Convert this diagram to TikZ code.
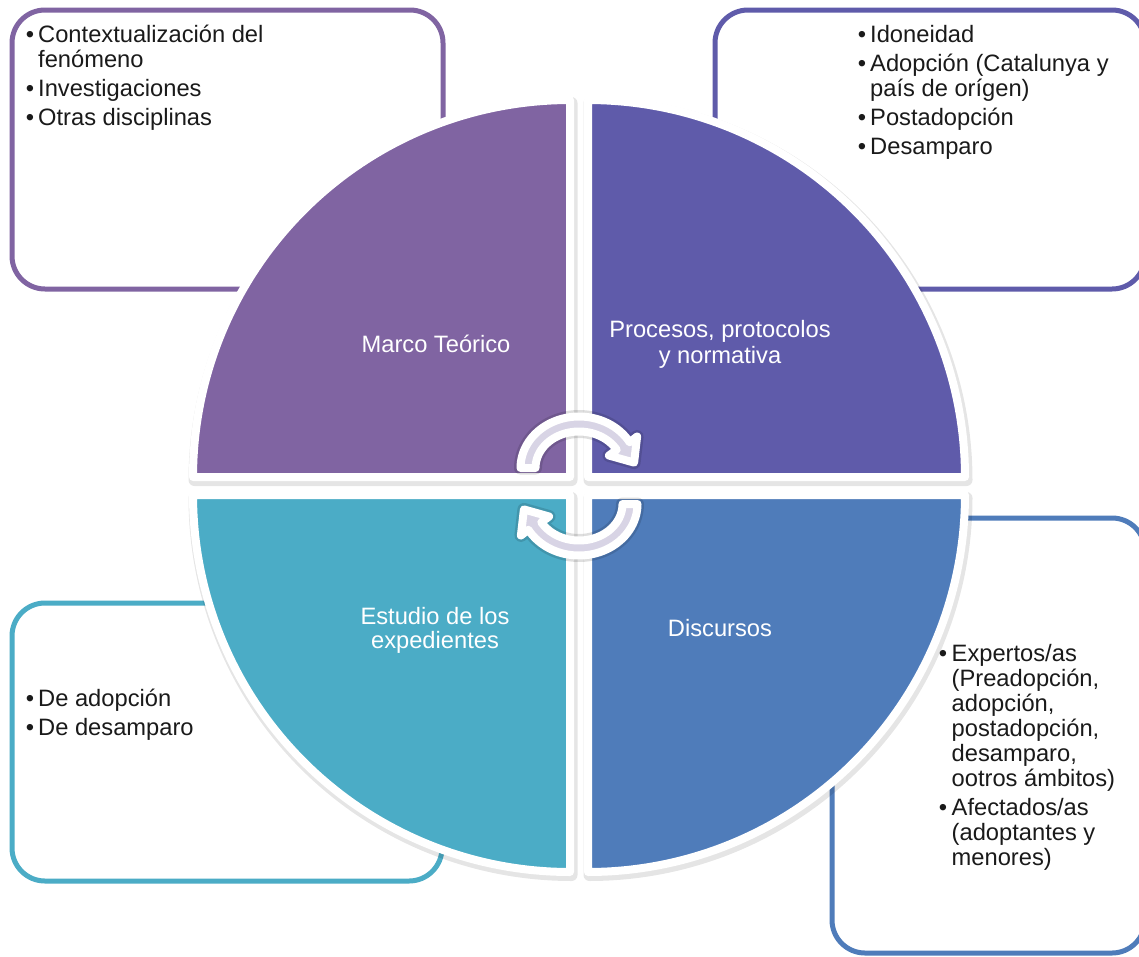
\documentclass[tikz,border=0pt]{standalone}
\usepackage{fontspec}
\setmainfont{Liberation Sans}
\definecolor{cTL}{HTML}{8064A2}
\definecolor{cTR}{HTML}{5F5BAA}
\definecolor{cBR}{HTML}{4F7CBA}
\definecolor{cBL}{HTML}{4BACC6}
\definecolor{lav}{HTML}{D8D4E5}
\definecolor{txtc}{HTML}{1A1A1A}
\begin{document}
\begin{tikzpicture}[x=1pt,y=-1pt,
  box/.style={line width=5pt, rounded corners=33pt, fill=white},
  quad/.style={draw=white, line width=8pt, line join=round},
  shad/.style={fill=black, draw=black, opacity=0.10, line width=12pt, line join=round},
  txt/.style={font=\fontsize{23.7}{25}\selectfont, text=txtc, anchor=base west, inner sep=0pt},
  bul/.style={font=\fontsize{23.7}{25}\selectfont, text=txtc, anchor=base, inner sep=0pt},
  lab/.style={font=\fontsize{23.7}{25}\selectfont, text=white, anchor=base, inner sep=0pt},
  arr/.style={fill=lav, draw=white, line width=8pt, line join=round},
  arrshad/.style={fill=black, draw=black, opacity=0.13, line width=13pt, line join=round},
  cyc/.pic={
    \path[arrshad] plot[domain=180:330,samples=40,smooth] ({58.5*cos(\x)},{-18+51.5*sin(\x)})
      -- (58.1,-49.5) -- (55.1,-23.4) -- (29.9,-30.5)
      -- plot[domain=330:180,samples=40,smooth] ({43.5*cos(\x)},{-18+36.5*sin(\x)}) -- cycle;
    \path[arr] plot[domain=180:330,samples=40,smooth] ({58.5*cos(\x)},{-18+51.5*sin(\x)})
      -- (58.1,-49.5) -- (55.1,-23.4) -- (29.9,-30.5)
      -- plot[domain=330:180,samples=40,smooth] ({43.5*cos(\x)},{-18+36.5*sin(\x)}) -- cycle;
  }]
\useasboundingbox (0,0) rectangle (1139,956);
\clip (0,0) rectangle (1139,956);
\fill[white] (0,0) rectangle (1139,956);

% outline boxes
\draw[box, draw=cTL] (12,10) rectangle (443,289);
\draw[box, draw=cTR] (715,10) rectangle (1145,289);
\draw[box, draw=cBL] (12,603) rectangle (442,881);
\draw[box, draw=cBR] (832,518) rectangle (1145,953);

% quadrant shadows
\foreach \cx/\cy/\sa/\sb in {570/477/180/270, 588/477/270/360, 588/495/0/90, 570/495/90/180} {
  \begin{scope}[shift={(1.5,3)}]
    \path[shad] (\cx,\cy) -- plot[domain=\sa:\sb,samples=60,smooth] ({\cx+377*cos(\x)},{\cy+377*sin(\x)}) -- cycle;
  \end{scope}
}
% quadrants
\foreach \cx/\cy/\sa/\sb/\col in {570/477/180/270/cTL, 588/477/270/360/cTR, 588/495/0/90/cBR, 570/495/90/180/cBL} {
  \path[quad, fill=\col] (\cx,\cy) -- plot[domain=\sa:\sb,samples=60,smooth] ({\cx+377*cos(\x)},{\cy+377*sin(\x)}) -- cycle;
}

% quadrant labels
\node[lab] (marco) at (436,352) {Marco Teórico};
\node[lab] (proc1) at (720,337) {Procesos, protocolos};
\node[lab] (proc2) at (720,363) {y normativa};
\node[lab] (est1) at (435,624) {Estudio de los};
\node[lab] (est2) at (435,648) {expedientes};
\node[lab] (disc) at (720,636) {Discursos};

% circular arrows
\pic (uparrow) at (579,486) {cyc};
\pic[rotate=180] (downarrow) at (579,486) {cyc};

% box texts: top left
\foreach \yy/\tx [count=\i] in {42.5/{Contextualización del}, 67.5/{fenómeno}, 96.5/{Investigaciones}, 125.5/{Otras disciplinas}}
  \node[txt] (tl\i) at (38,\yy) {\tx};
\foreach \yy [count=\i] in {42.5,96.5,125.5}
  \node[bul] (tlb\i) at (30,\yy) {•};

% top right
\foreach \yy/\tx [count=\i] in {42.5/{Idoneidad}, 71.5/{Adopción (Catalunya y}, 96.5/{país de orígen)}, 125.5/{Postadopción}, 154.5/{Desamparo}}
  \node[txt] (tr\i) at (870,\yy) {\tx};
\foreach \yy [count=\i] in {42.5,71.5,125.5,154.5}
  \node[bul] (trb\i) at (862,\yy) {•};

% bottom left
\foreach \yy/\tx [count=\i] in {706/{De adopción}, 735/{De desamparo}}
  \node[txt] (bl\i) at (38,\yy) {\tx};
\foreach \yy [count=\i] in {706,735}
  \node[bul] (blb\i) at (30,\yy) {•};

% bottom right
\foreach \yy/\tx [count=\i] in {661.5/{Expertos/as}, 686.5/{(Preadopción,}, 711.5/{adopción,}, 736.5/{postadopción,}, 761.5/{desamparo,}, 786.5/{ootros ámbitos)}, 815.5/{Afectados/as}, 840.5/{(adoptantes y}, 865.5/{menores)}}
  \node[txt] (br\i) at (951.5,\yy) {\tx};
\foreach \yy [count=\i] in {661.5,815.5}
  \node[bul] (brb\i) at (943,\yy) {•};
\end{tikzpicture}
\end{document}
